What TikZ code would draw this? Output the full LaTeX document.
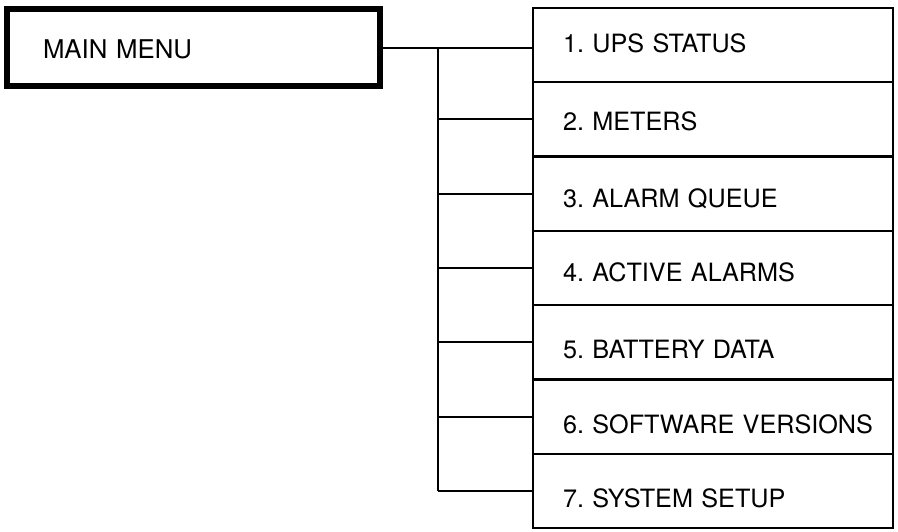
\documentclass[tikz,border=0pt]{standalone}
\usepackage{fontspec}
\setmainfont{TeX Gyre Heros}
\frenchspacing
\newcommand\menutext[1]{\makebox[300pt][l]{#1}}
\begin{document}
\begin{tikzpicture}[x=1pt,y=-1pt,
  menubox/.style={draw=black,line width=2.3pt,rectangle,minimum width=360pt,minimum height=74.3pt,
    text width=300pt,align=left,inner sep=0pt,text height=#1,text depth=0pt,
    font=\fontsize{25.2}{27}\selectfont},
  mainbox/.style={draw=black,line width=6pt,rectangle,minimum width=373pt,minimum height=77pt,
    text width=301pt,align=left,inner sep=0pt,text height=21pt,text depth=0pt,
    font=\fontsize{25.8}{27}\selectfont},
  link/.style={draw=black,line width=2pt}]
\useasboundingbox (0,0) rectangle (898,531);
\node[mainbox] (main) at (193.5,47.5) {MAIN MENU};
\node[menubox=15pt] (b1) at (713,45.15) {\menutext{1. UPS STATUS}};
\node[menubox=23pt] (b2) at (713,119.45) {\menutext{2. METERS}};
\node[menubox=27pt] (b3) at (713,193.75) {\menutext{3. ALARM QUEUE}};
\node[menubox=27pt] (b4) at (713,268.05) {\menutext{4. ACTIVE ALARMS}};
\node[menubox=33pt] (b5) at (713,342.35) {\menutext{5. BATTERY DATA}};
\node[menubox=33pt] (b6) at (713,416.65) {\menutext{6. SOFTWARE VERSIONS}};
\node[menubox=33pt] (b7) at (713,490.95) {\menutext{7. SYSTEM SETUP}};
\coordinate (ttop) at (438,47.5);
\coordinate (tbot) at (438,490.95);
\draw[link] (main.east) -- (main.east -| b1.west);
\draw[link] (ttop) -- (tbot);
\foreach \i in {2,...,7}{
  \draw[link] (ttop |- b\i.west) -- (b\i.west);
}
\end{tikzpicture}
\end{document}
